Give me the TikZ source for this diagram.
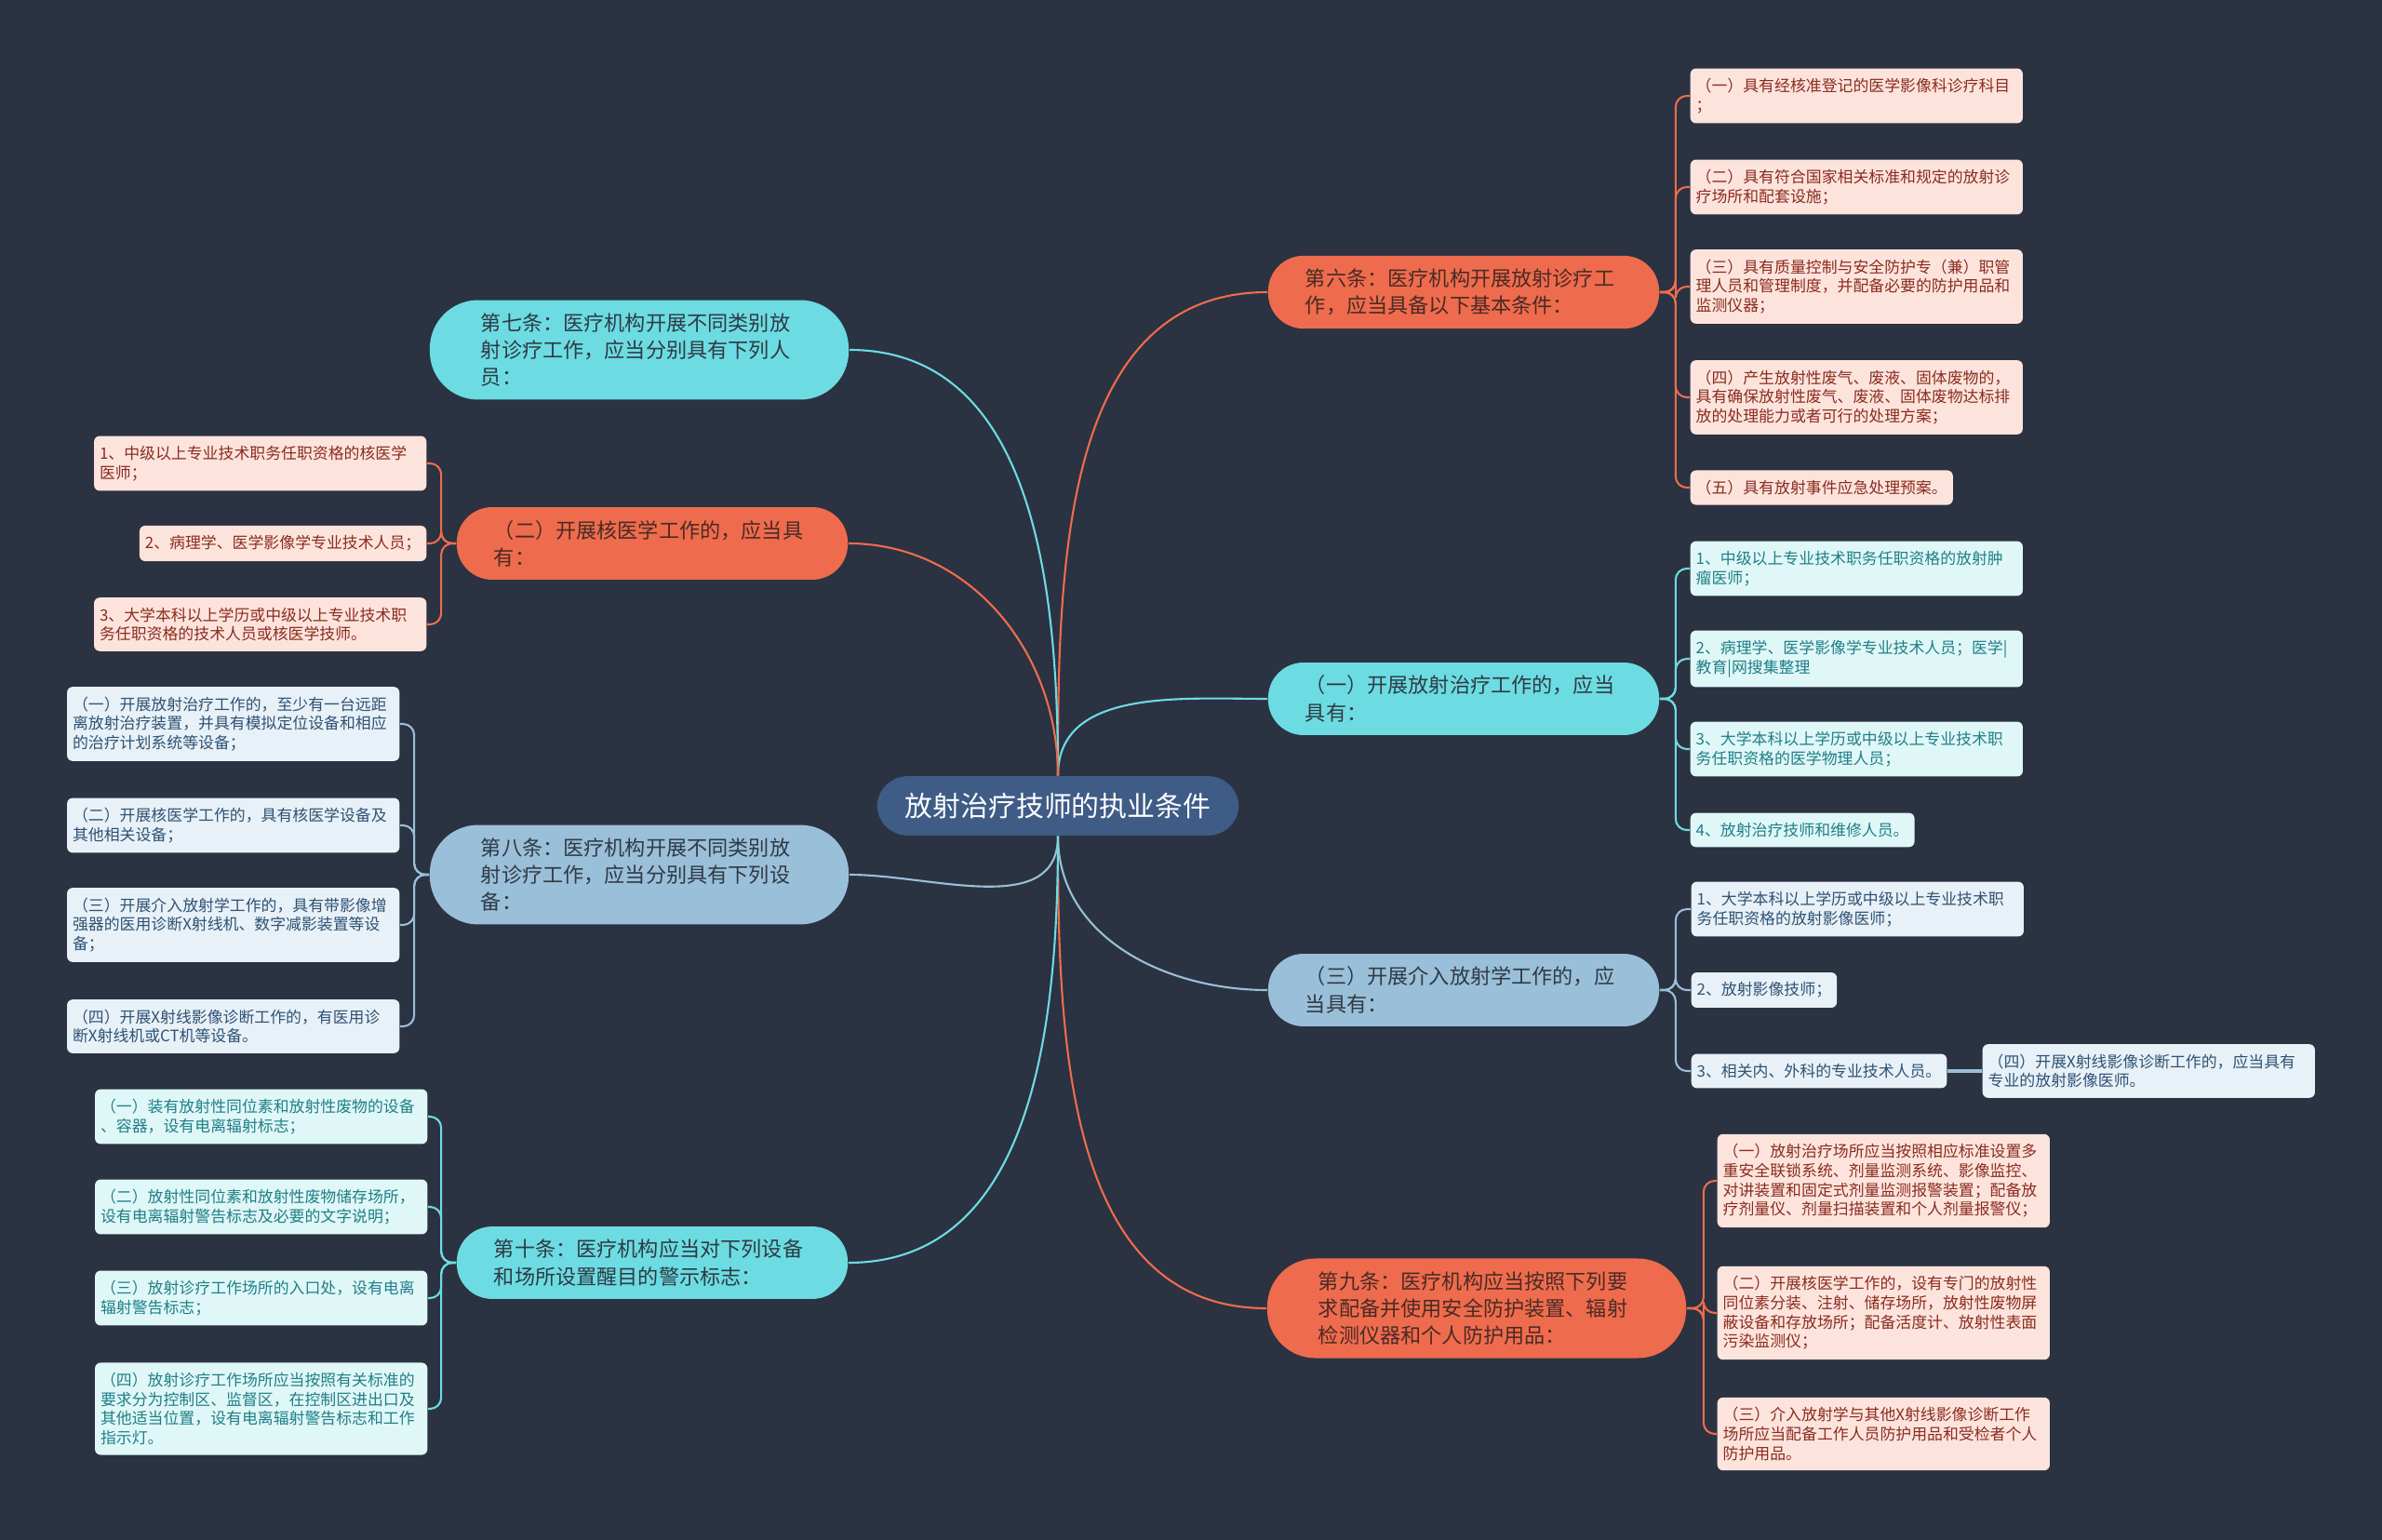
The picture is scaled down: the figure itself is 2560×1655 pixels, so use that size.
\documentclass[tikz,border=0pt]{standalone}
\usepackage{fontspec}
\setmainfont{Noto Sans CJK SC}
\usepackage{tikz}

\definecolor{bgc}{HTML}{2B3241}
\definecolor{rootc}{HTML}{3E5C85}
\definecolor{orangec}{HTML}{EE6C4D}
\definecolor{cyanc}{HTML}{6CDCE2}
\definecolor{bluec}{HTML}{9ABFD9}
\definecolor{pinkfill}{HTML}{FCE4DD}
\definecolor{pinktext}{HTML}{8B2C1F}
\definecolor{cyanfill}{HTML}{E0F7F8}
\definecolor{cyantext}{HTML}{1F7F86}
\definecolor{bluefill}{HTML}{E8F1F7}
\definecolor{bluetext}{HTML}{2E5274}
\definecolor{darktext}{HTML}{2F3A44}
\definecolor{browntext}{HTML}{4A2A25}

\begin{document}
\begin{tikzpicture}[x=0.01cm,y=-0.01cm,
    every node/.style={inner sep=0},
    centralbox/.style={fill=rootc, text=white, inner xsep=0.3cm, inner ysep=0.18cm,
      rounded corners=0.33cm, font=\fontsize{8.5}{10}\selectfont},
    topicbox/.style={align=left, text width=3.4cm, minimum width=4.2cm, inner ysep=0.14cm,
      rounded corners=0.38cm, font=\fontsize{6.3}{8.3}\selectfont},
    tallbox/.style={minimum width=4.5cm, rounded corners=0.52cm},
    leafbox/.style={align=left, rounded corners=0.06cm, inner xsep=0.06cm, inner ysep=0.105cm,
      font=\fontsize{4.8}{5.9}\selectfont},
    rleaf/.style={leafbox, anchor=west},
    lleaf/.style={leafbox, anchor=east},
    widebox/.style={text width=3.45cm},
    otopic/.style={topicbox, fill=orangec, text=browntext},
    ctopic/.style={topicbox, fill=cyanc, text=darktext},
    btopic/.style={topicbox, fill=bluec, text=darktext},
    pleaf/.style={fill=pinkfill, text=pinktext},
    cleaf/.style={fill=cyanfill, text=cyantext},
    bleaf/.style={fill=bluefill, text=bluetext},
    oline/.style={draw=orangec, line width=0.6pt},
    cline/.style={draw=cyanc, line width=0.6pt},
    bline/.style={draw=bluec, line width=0.6pt},
    bracket/.style={rounded corners=0.12cm}]

  \useasboundingbox (0,0) rectangle (2560,1655);
  \fill[bgc] (0,0) rectangle (2560,1655);

  \node[centralbox] (root) at (1137,866) {放射治疗技师的执业条件};

  % right side
  \node[otopic] (s6) at (1573,314) {第六条：医疗机构开展放射诊疗工\\作，应当具备以下基本条件：};
  \node[ctopic] (s1) at (1573,751) {（一）开展放射治疗工作的，应当\\具有：};
  \node[btopic] (s3) at (1573,1064) {（三）开展介入放射学工作的，应\\当具有：};
  \node[otopic, tallbox] (s9) at (1587,1406) {第九条：医疗机构应当按照下列要\\求配备并使用安全防护装置、辐射\\检测仪器和个人防护用品：};

  % left side
  \node[ctopic, tallbox] (s7) at (687,376) {第七条：医疗机构开展不同类别放\\射诊疗工作，应当分别具有下列人\\员：};
  \node[otopic] (s2) at (701,584) {（二）开展核医学工作的，应当具\\有：};
  \node[btopic, tallbox] (s8) at (687,940) {第八条：医疗机构开展不同类别放\\射诊疗工作，应当分别具有下列设\\备：};
  \node[ctopic] (s10) at (701,1357) {第十条：医疗机构应当对下列设备\\和场所设置醒目的警示标志：};

  \node[rleaf, pleaf, widebox] (r1) at (1816,103) {（一）具有经核准登记的医学影像科诊疗科目\\；};
  \node[rleaf, pleaf, widebox] (r2) at (1816,201) {（二）具有符合国家相关标准和规定的放射诊\\疗场所和配套设施；};
  \node[rleaf, pleaf, widebox] (r3) at (1816,308) {（三）具有质量控制与安全防护专（兼）职管\\理人员和管理制度，并配备必要的防护用品和\\监测仪器；};
  \node[rleaf, pleaf, widebox] (r4) at (1816,427) {（四）产生放射性废气、废液、固体废物的，\\具有确保放射性废气、废液、固体废物达标排\\放的处理能力或者可行的处理方案；};
  \node[rleaf, pleaf] (r5) at (1816,524) {（五）具有放射事件应急处理预案。};

  \node[rleaf, cleaf, widebox] (c1) at (1816,611) {1、中级以上专业技术职务任职资格的放射肿\\瘤医师；};
  \node[rleaf, cleaf, widebox] (c2) at (1816,708) {2、病理学、医学影像学专业技术人员；医学|\\教育|网搜集整理};
  \node[rleaf, cleaf, widebox] (c3) at (1816,805) {3、大学本科以上学历或中级以上专业技术职\\务任职资格的医学物理人员；};
  \node[rleaf, cleaf] (c4) at (1816,892) {4、放射治疗技师和维修人员。};

  \node[rleaf, bleaf, widebox] (i1) at (1817,977) {1、大学本科以上学历或中级以上专业技术职\\务任职资格的放射影像医师；};
  \node[rleaf, bleaf] (i2) at (1817,1064) {2、放射影像技师；};
  \node[rleaf, bleaf] (i3) at (1817,1151) {3、相关内、外科的专业技术人员。};
  \node[rleaf, bleaf, widebox] (i4) at (2130,1151) {（四）开展X射线影像诊断工作的，应当具有\\专业的放射影像医师。};

  \node[rleaf, pleaf, widebox] (n1) at (1845,1269) {（一）放射治疗场所应当按照相应标准设置多\\重安全联锁系统、剂量监测系统、影像监控、\\对讲装置和固定式剂量监测报警装置；配备放\\疗剂量仪、剂量扫描装置和个人剂量报警仪；};
  \node[rleaf, pleaf, widebox] (n2) at (1845,1411) {（二）开展核医学工作的，设有专门的放射性\\同位素分装、注射、储存场所，放射性废物屏\\蔽设备和存放场所；配备活度计、放射性表面\\污染监测仪；};
  \node[rleaf, pleaf, widebox] (n3) at (1845,1541) {（三）介入放射学与其他X射线影像诊断工作\\场所应当配备工作人员防护用品和受检者个人\\防护用品。};

  \node[lleaf, pleaf, widebox] (l1) at (459,498) {1、中级以上专业技术职务任职资格的核医学\\医师；};
  \node[lleaf, pleaf] (l2) at (459,584) {2、病理学、医学影像学专业技术人员；};
  \node[lleaf, pleaf, widebox] (l3) at (459,671) {3、大学本科以上学历或中级以上专业技术职\\务任职资格的技术人员或核医学技师。};

  \node[lleaf, bleaf, widebox] (e1) at (430,778) {（一）开展放射治疗工作的，至少有一台远距\\离放射治疗装置，并具有模拟定位设备和相应\\的治疗计划系统等设备；};
  \node[lleaf, bleaf, widebox] (e2) at (430,887) {（二）开展核医学工作的，具有核医学设备及\\其他相关设备；};
  \node[lleaf, bleaf, widebox] (e3) at (430,994) {（三）开展介入放射学工作的，具有带影像增\\强器的医用诊断X射线机、数字减影装置等设\\备；};
  \node[lleaf, bleaf, widebox] (e4) at (430,1103) {（四）开展X射线影像诊断工作的，有医用诊\\断X射线机或CT机等设备。};

  \node[lleaf, cleaf, widebox] (t1) at (460,1200) {（一）装有放射性同位素和放射性废物的设备\\、容器，设有电离辐射标志；};
  \node[lleaf, cleaf, widebox] (t2) at (460,1297) {（二）放射性同位素和放射性废物储存场所，\\设有电离辐射警告标志及必要的文字说明；};
  \node[lleaf, cleaf, widebox] (t3) at (460,1395) {（三）放射诊疗工作场所的入口处，设有电离\\辐射警告标志；};
  \node[lleaf, cleaf, widebox] (t4) at (460,1514) {（四）放射诊疗工作场所应当按照有关标准的\\要求分为控制区、监督区，在控制区进出口及\\其他适当位置，设有电离辐射警告标志和工作\\指示灯。};

  % branches from the centre
  \draw[oline] (root.north) to[out=90, in=180] (s6.west);
  \draw[cline] (root.north) to[out=90, in=180] (s1.west);
  \draw[bline] (root.south) to[out=-90, in=180] (s3.west);
  \draw[oline] (root.south) to[out=-90, in=180] (s9.west);
  \draw[cline] (root.north) to[out=90, in=0] (s7.east);
  \draw[oline] (root.north) to[out=90, in=0] (s2.east);
  \draw[bline] (root.south) to[out=-90, in=0] (s8.east);
  \draw[cline] (root.south) to[out=-90, in=0] (s10.east);

  % brackets to the leaves
  \foreach \leaf in {r1,r2,r3,r4,r5}
    \draw[oline, bracket] (s6.east) -- ++(17,0) |- (\leaf.west);
  \foreach \leaf in {c1,c2,c3,c4}
    \draw[cline, bracket] (s1.east) -- ++(17,0) |- (\leaf.west);
  \foreach \leaf in {i1,i2,i3}
    \draw[bline, bracket] (s3.east) -- ++(17,0) |- (\leaf.west);
  \draw[bline, line width=1pt] (i3.east) -- (i4.west);
  \foreach \leaf in {n1,n2,n3}
    \draw[oline, bracket] (s9.east) -- ++(18,0) |- (\leaf.west);
  \foreach \leaf in {l1,l2,l3}
    \draw[oline, bracket] (s2.west) -- ++(-16,0) |- (\leaf.east);
  \foreach \leaf in {e1,e2,e3,e4}
    \draw[bline, bracket] (s8.west) -- ++(-16,0) |- (\leaf.east);
  \foreach \leaf in {t1,t2,t3,t4}
    \draw[cline, bracket] (s10.west) -- ++(-16,0) |- (\leaf.east);
\end{tikzpicture}
\end{document}
